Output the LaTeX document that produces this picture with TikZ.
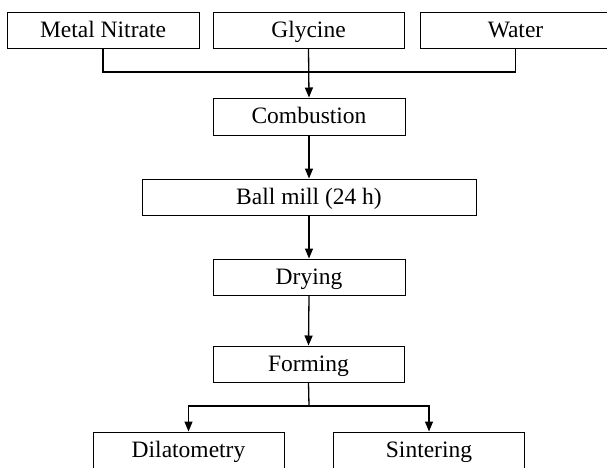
\documentclass[tikz,border=0pt]{standalone}
\usepackage{fontspec}
\setmainfont{Liberation Serif}
\usetikzlibrary{arrows.meta}
\begin{document}
\begin{tikzpicture}[x=1pt,y=-1pt,
  box/.style={draw=black,line width=1pt,minimum height=36pt,inner sep=0pt,
    text height=14pt,text depth=0pt,
    font=\fontsize{23.5}{26}\selectfont},
  conn/.style={draw=black,line width=1.3pt},
  arr/.style={conn,-{Triangle[length=10pt,width=8pt]}}]
\useasboundingbox (0,0) rectangle (607,467);
\node[box,minimum width=192pt] (mn) at (103,30) {Metal Nitrate};
\node[box,minimum width=191pt] (gl) at (308.5,30) {Glycine};
\node[box,minimum width=191pt] (wa) at (515.5,30) {Water};
\node[box,minimum width=192pt,minimum height=37pt] (co) at (309,116.5) {Combustion};
\node[box,minimum width=334pt] (bm) at (309,197) {Ball mill (24 h)};
\node[box,minimum width=192pt] (dr) at (309,277) {Drying};
\node[box,minimum width=191pt] (fo) at (308.5,364) {Forming};
\node[box,minimum width=191pt] (di) at (188.5,450) {Dilatometry};
\node[box,minimum width=191pt] (si) at (429,450) {Sintering};
\coordinate (j) at (309,72);
\coordinate (b) at (309,406);
\draw[conn] (mn.south) |- (j) -| (wa.south);
\draw[arr] (gl.south) -- (co.north);
\draw[arr] (co.south) -- (bm.north);
\draw[arr] (bm.south) -- (dr.north);
\draw[arr] (dr.south) -- (fo.north);
\draw[conn] (fo.south) -- (b);
\draw[arr] (b) -| (di.north);
\draw[arr] (b) -| (si.north);
\end{tikzpicture}
\end{document}
